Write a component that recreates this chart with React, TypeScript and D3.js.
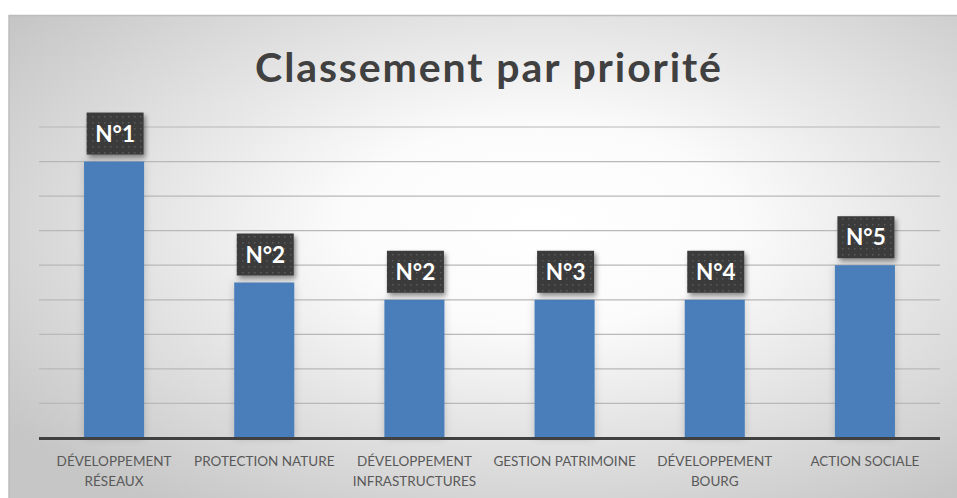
import React from "react";
import * as d3 from "d3";

const categories: string[][] = [
  ["DÉVELOPPEMENT", "RÉSEAUX"],
  ["PROTECTION NATURE"],
  ["DÉVELOPPEMENT", "INFRASTRUCTURES"],
  ["GESTION PATRIMOINE"],
  ["DÉVELOPPEMENT", "BOURG"],
  ["ACTION SOCIALE"],
];
const values: number[] = [8, 4.5, 4, 4, 4, 5];
const ranks: string[] = ["N°1", "N°2", "N°2", "N°3", "N°4", "N°5"];
const gridTicks: number[] = [1, 2, 3, 4, 5, 6, 7, 8, 9];
const title = "Classement par priorité";

const W = 957;
const H = 498;
const plotLeft = 39;
const plotRight = 940;
const plotTop = 127;
const plotBottom = 438;

export default function App() {
  const x = d3
    .scaleBand<number>()
    .domain(d3.range(categories.length))
    .range([plotLeft, plotRight])
    .paddingInner(0.6)
    .paddingOuter(0.3);
  const y = d3.scaleLinear().domain([0, 9]).range([plotBottom, plotTop]);
  const font = "Lato, 'Open Sans', sans-serif";
  const boxW = 57;
  const boxH = 42;

  return (
    <svg
      width={W}
      height={H}
      style={{ position: "absolute", left: 0, top: 0, display: "block" }}
    >
      <defs>
        <radialGradient id="bg" cx="0.55" cy="0.42" r="0.68">
          <stop offset="0" stopColor="#ffffff" />
          <stop offset="0.3" stopColor="#fbfbfb" />
          <stop offset="1" stopColor="#c6c6c6" />
        </radialGradient>
        <pattern id="dots" width="6" height="6" patternUnits="userSpaceOnUse">
          <rect width="6" height="6" fill="#3b3b3b" />
          <rect x="2" y="2" width="1.5" height="1.5" fill="#5a5a5a" />
        </pattern>
        <filter id="barShadow" x="-30%" y="-10%" width="160%" height="120%">
          <feGaussianBlur in="SourceAlpha" stdDeviation="4" />
          <feComponentTransfer>
            <feFuncA type="linear" slope="0.18" />
          </feComponentTransfer>
          <feMerge>
            <feMergeNode />
            <feMergeNode in="SourceGraphic" />
          </feMerge>
        </filter>
        <filter id="boxShadow" x="-20%" y="-20%" width="150%" height="160%">
          <feGaussianBlur in="SourceAlpha" stdDeviation="2.5" />
          <feOffset dx="2" dy="3" result="o" />
          <feComponentTransfer>
            <feFuncA type="linear" slope="0.45" />
          </feComponentTransfer>
          <feMerge>
            <feMergeNode />
            <feMergeNode in="SourceGraphic" />
          </feMerge>
        </filter>
      </defs>
      <rect x={0} y={0} width={W} height={H} fill="#ffffff" />
      <rect
        x={9}
        y={15.5}
        width={966}
        height={500}
        fill="url(#bg)"
        stroke="#bdbdbd"
        strokeWidth={1.5}
      />
      <text
        x={489}
        y={82}
        textAnchor="middle"
        fontFamily={font}
        fontWeight={700}
        fontSize={41}
        letterSpacing={1.9}
        fill="#404040"
      >
        {title}
      </text>
      {gridTicks.map((t) => (
        <line
          key={t}
          x1={plotLeft}
          x2={plotRight}
          y1={y(t)}
          y2={y(t)}
          stroke="#b8b8b8"
          strokeWidth={1.2}
        />
      ))}
      {values.map((v, i) => (
        <rect
          key={i}
          x={x(i)}
          y={y(v)}
          width={x.bandwidth()}
          height={y(0) - y(v)}
          fill="#4a7ebb"
          filter="url(#barShadow)"
        />
      ))}
      <line
        x1={plotLeft}
        x2={plotRight}
        y1={plotBottom + 0.5}
        y2={plotBottom + 0.5}
        stroke="#404040"
        strokeWidth={3}
      />
      {values.map((v, i) => {
        const cx = (x(i) as number) + x.bandwidth() / 2;
        const by = y(v) - 7 - boxH;
        return (
          <g key={i}>
            <rect
              x={cx - boxW / 2 + 1}
              y={by}
              width={boxW}
              height={boxH}
              fill="url(#dots)"
              filter="url(#boxShadow)"
            />
            <text
              x={cx + 1}
              y={by + 29}
              textAnchor="middle"
              fontFamily={font}
              fontWeight={700}
              fontSize={22.5}
              fill="#ffffff"
            >
              {ranks[i]}
            </text>
          </g>
        );
      })}
      {categories.map((lines, i) => {
        const cx = (x(i) as number) + x.bandwidth() / 2;
        return (
          <text
            key={i}
            textAnchor="middle"
            fontFamily={font}
            fontSize={13.5}
            fill="#595959"
          >
            {lines.map((l, j) => (
              <tspan key={j} x={cx} y={466 + j * 19.5}>
                {l}
              </tspan>
            ))}
          </text>
        );
      })}
    </svg>
  );
}
